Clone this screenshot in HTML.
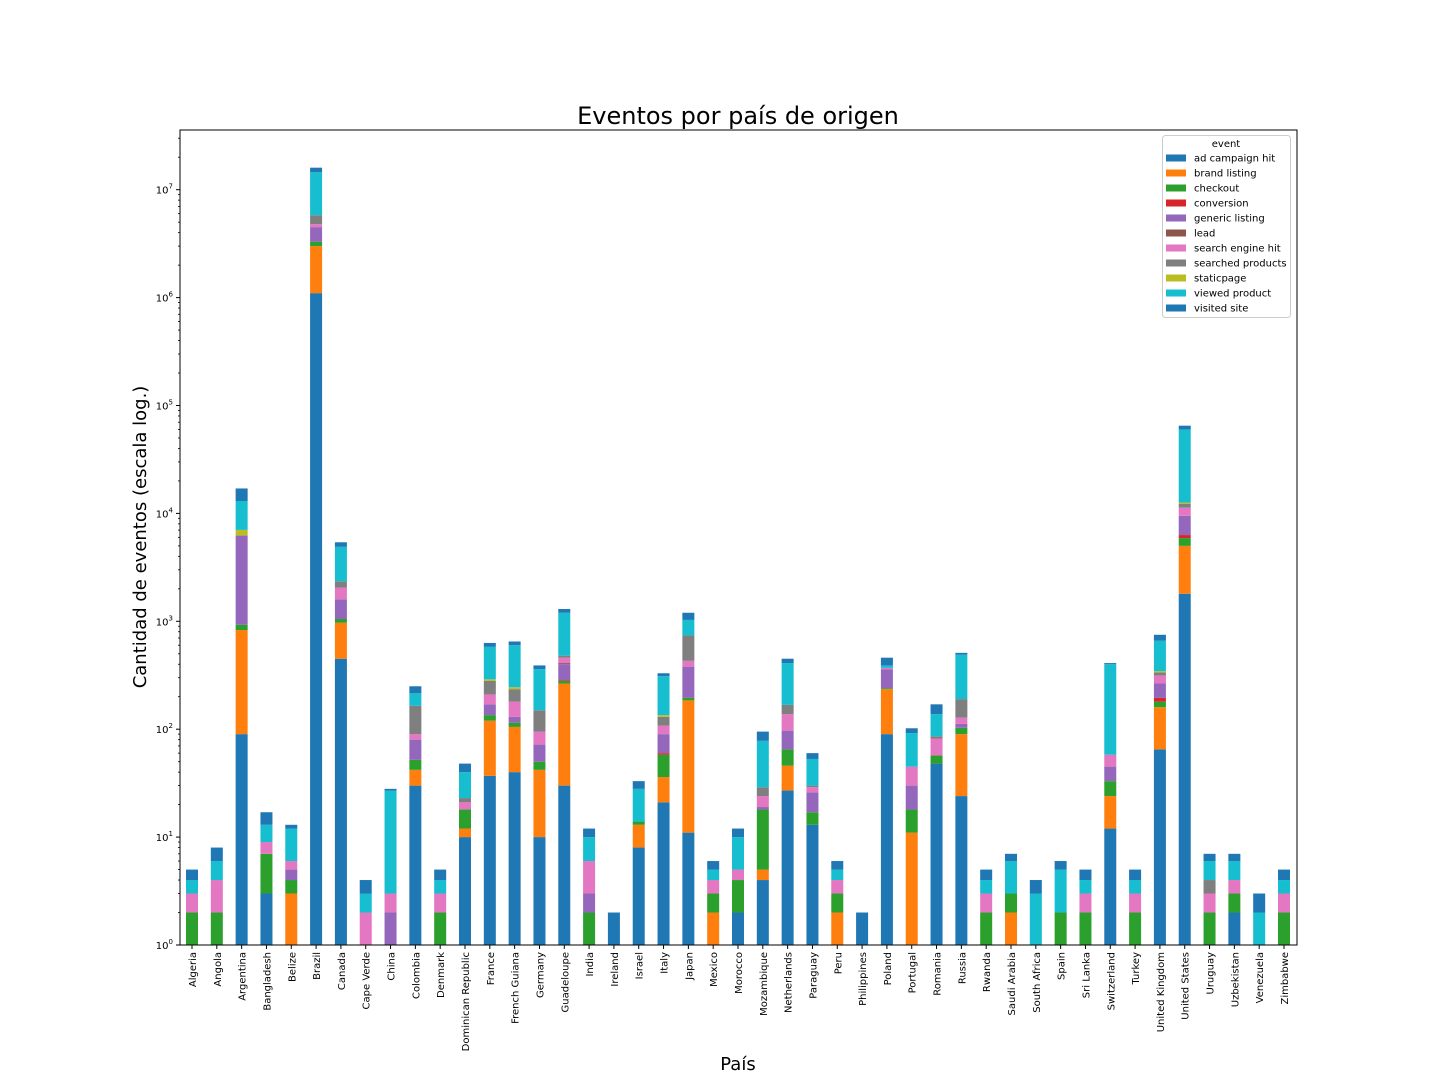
<!DOCTYPE html>
<html><head><meta charset="utf-8"><style>
body{margin:0;background:#fff;}
svg{display:block;font-family:"DejaVu Sans","Liberation Sans",sans-serif;}
</style></head><body>
<svg id="chart" width="1440" height="1080" viewBox="0 0 1440 1080">
<rect width="1440" height="1080" fill="#fff"/>
<text x="738" y="124" font-size="24" text-anchor="middle">Eventos por país de origen</text>
<text x="738" y="1070" font-size="18" text-anchor="middle">País</text>
<text transform="translate(146,537) rotate(-90)" font-size="18" text-anchor="middle">Cantidad de eventos (escala log.)</text>
<g id="bars"></g><g id="axes"></g><g id="legend"></g>
</svg>
<script>
const countries=["Algeria","Angola","Argentina","Bangladesh","Belize","Brazil","Canada","Cape Verde","China","Colombia","Denmark","Dominican Republic","France","French Guiana","Germany","Guadeloupe","India","Ireland","Israel","Italy","Japan","Mexico","Morocco","Mozambique","Netherlands","Paraguay","Peru","Philippines","Poland","Portugal","Romania","Russia","Rwanda","Saudi Arabia","South Africa","Spain","Sri Lanka","Switzerland","Turkey","United Kingdom","United States","Uruguay","Uzbekistan","Venezuela","Zimbabwe"];
const seriesNames=["ad campaign hit","brand listing","checkout","conversion","generic listing","lead","search engine hit","searched products","staticpage","viewed product","visited site"];
const adCampaignHit=[0,0,90,3,0,1100000,450,0,0,30,0,10,37,40,10,30,0,2,8,21,11,0,2,4,27,13,0,0,90,0,48,24,0,0,0,0,0,12,0,65,1800,0,2,0,0];
const brandListing=[0,0,740,0,3,1900000,520,0,0,12,0,2,83,65,32,235,0,0,5,15,174,2,0,1,19,0,2,0,145,11,0,66,0,2,0,0,0,12,0,95,3200,0,0,0,0];
const checkout=[2,2,100,4,1,300000,80,0,0,10,2,6,15,10,8,15,2,0,1,22,10,1,2,13,19,4,1,0,5,7,9,13,2,1,0,2,2,9,2,20,900,2,1,0,2];
const conversion=[0,0,0,0,0,0,0,0,0,0,0,0,0,0,0,5,0,0,0,2,0,0,0,0,0,0,0,0,0,0,0,0,0,0,0,0,0,0,0,15,400,0,0,0,0];
const genericListing=[0,0,5300,0,1,1200000,550,0,2,28,0,0,35,15,22,115,1,0,0,30,185,0,0,1,32,9,0,0,120,12,0,9,0,0,0,0,0,12,0,70,3200,0,0,0,0];
const lead=[0,0,0,0,0,0,0,0,0,0,0,0,0,0,0,10,0,0,0,0,0,0,0,0,0,0,0,0,0,0,0,0,0,0,0,0,0,0,0,0,0,0,0,0,0];
const searchEngineHit=[1,2,0,2,1,300000,450,2,1,10,1,3,40,50,23,50,3,0,0,18,50,1,1,5,41,3,1,0,10,15,25,16,1,0,0,0,1,13,1,50,1800,1,1,0,1];
const searchedProducts=[0,0,0,0,0,1000000,300,0,0,75,0,2,70,55,55,20,0,0,0,22,310,0,0,5,30,1,0,0,0,0,4,62,0,0,0,0,0,0,0,20,1000,1,0,0,0];
const staticpage=[0,0,800,0,0,0,0,0,0,0,0,0,10,10,0,0,0,0,0,5,0,0,0,0,0,0,0,0,0,0,0,0,0,0,0,0,0,0,0,10,300,0,0,0,0];
const viewedProduct=[1,2,6000,4,6,8700000,2550,1,24,50,1,17,290,355,210,720,4,0,14,175,290,1,5,49,242,23,1,0,20,47,52,300,1,3,3,3,1,342,1,315,47400,2,2,2,1];
const visitedSite=[1,2,4000,4,1,1500000,500,1,1,35,1,8,50,50,30,100,2,0,5,20,170,1,2,17,40,7,1,2,70,10,32,20,1,1,1,1,1,10,1,90,5000,1,1,1,1];
const series=[adCampaignHit,brandListing,checkout,conversion,genericListing,lead,searchEngineHit,searchedProducts,staticpage,viewedProduct,visitedSite];
const colors=["#1f77b4","#ff7f0e","#2ca02c","#d62728","#9467bd","#8c564b","#e377c2","#7f7f7f","#bcbd22","#17becf","#1f77b4"];
const yTicks=[0,1,2,3,4,5,6,7];

const NS="http://www.w3.org/2000/svg";
const L=180,R=1297,T=130,B=945,DEC=107.9;
function y(v){ if(v<1) v=1; return B-Math.log10(v)*DEC; }
function x(i){ return 192+i*((1284-192)/(countries.length-1)); }
function mk(tag,attrs,parent){const e=document.createElementNS(NS,tag);for(const k in attrs)e.setAttribute(k,attrs[k]);parent.appendChild(e);return e;}
const bars=document.getElementById('bars'),axes=document.getElementById('axes'),leg=document.getElementById('legend');
const bw=12;
countries.forEach((c,i)=>{
  let cum=0;
  series.forEach((s,j)=>{
    const v=s[i]; if(!v) return;
    const y0=y(cum), y1=y(cum+v); cum+=v;
    if(y0-y1<=0) return;
    const r=mk('rect',{x:x(i)-bw/2,y:y1,width:bw,height:y0-y1,fill:colors[j]},bars);
    
    
  });
  mk('line',{x1:x(i),x2:x(i),y1:B,y2:B+4,stroke:'#000','stroke-width':1},axes);
  const t=mk('text',{transform:`translate(${x(i)+4},${B+7}) rotate(-90)`,'font-size':10,'text-anchor':'end'},axes);
  t.textContent=c;
  
  
});
// y ticks
yTicks.forEach(p=>{
  const yy=y(Math.pow(10,p));
  mk('line',{x1:L-4,x2:L,y1:yy,y2:yy,stroke:'#000','stroke-width':1},axes);
  const t=mk('text',{x:L-7,y:yy+4,'font-size':10,'text-anchor':'end'},axes);
  
  
  t.innerHTML='10<tspan dy="-5" font-size="7">'+p+'</tspan>';
  for(let m=2;m<10;m++){const yv=y(m*Math.pow(10,p)); if(yv<T) break; mk('line',{x1:L-2,x2:L,y1:yv,y2:yv,stroke:'#000','stroke-width':0.8},axes);}
});
const fr=mk('rect',{x:L,y:T,width:R-L,height:B-T,fill:'none',stroke:'#000','stroke-width':1},axes);


// legend
const lb=mk('rect',{x:1162.5,y:135.5,width:128,height:182,fill:'#fff',stroke:'#ccc',rx:3},leg);


const lt=mk('text',{x:1226,y:147,'font-size':10,'text-anchor':'middle'},leg);lt.textContent='event';
seriesNames.forEach((n,j)=>{
  const yy=158+j*15;
  mk('rect',{x:1166,y:yy-3.5,width:20,height:7,fill:colors[j]},leg);
  const t=mk('text',{x:1194,y:yy+3.5,'font-size':10},leg);t.textContent=n;
  
  
});
</script>
</body></html>
